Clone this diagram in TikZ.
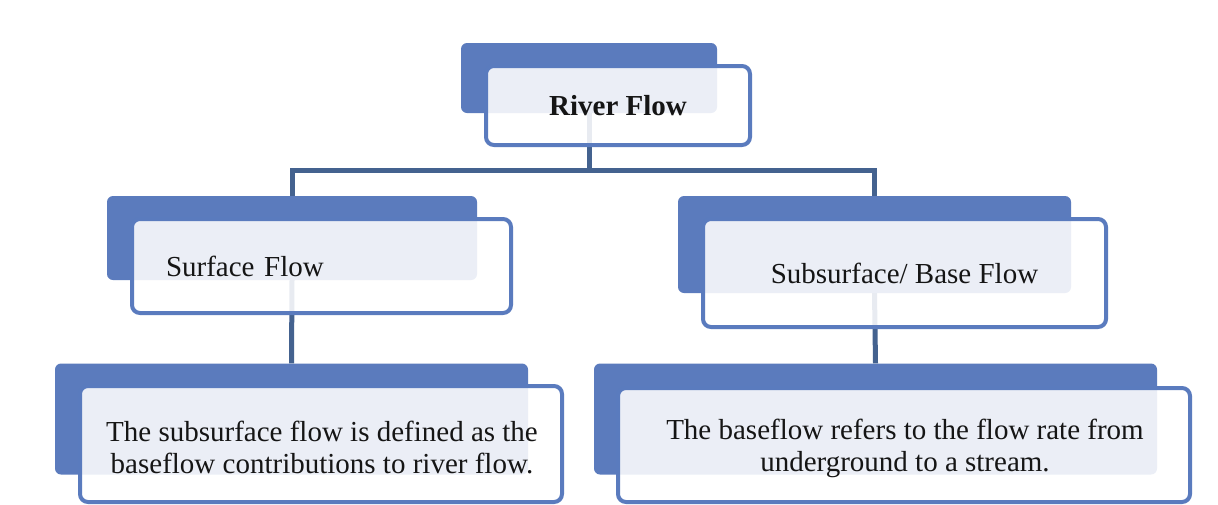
\documentclass[tikz,border=0pt]{standalone}
\usepackage{fontspec}
\setmainfont{Liberation Serif}
\definecolor{backblue}{HTML}{5B7BBD}
\definecolor{edgeblue}{HTML}{5A7BBE}
\definecolor{connblue}{HTML}{44628F}
\definecolor{txt}{HTML}{151515}
\tikzset{
  backbox/.style={fill=backblue, draw=none, rounded corners=6pt, inner sep=0pt},
  frontbox/.style={draw=edgeblue, line width=4pt, fill=white, fill opacity=0.88, text opacity=1,
    rounded corners=8pt, inner sep=0pt, text=txt, font=\fontsize{29}{32}\selectfont},
  label/.style={inner sep=0pt, text=txt, align=center, font=\fontsize{29}{32}\selectfont},
  conn/.style={draw=connblue, line width=5pt}
}
\begin{document}
\begin{tikzpicture}[x=1pt,y=-1pt]
\useasboundingbox (0,0) rectangle (1218,504);
\fill[white] (0,0) rectangle (1218,504);
% back boxes
\node[backbox, minimum width=256pt, minimum height=70pt] (rb) at (589,78) {};
\node[backbox, minimum width=370pt, minimum height=84pt] (sb) at (292,238) {};
\node[backbox, minimum width=393pt, minimum height=97pt] (bb) at (874.5,244.5) {};
\node[backbox, minimum width=473pt, minimum height=111pt] (db) at (291.5,419) {};
\node[backbox, minimum width=563pt, minimum height=111pt] (eb) at (875.5,419) {};
% connectors
\coordinate (j) at (589,170);
\draw[conn] (rb.south) -- (j);
\draw[conn] (sb.north) |- (j) -| (bb.north);
\draw[conn] (sb.south) -- (db.north);
\draw[conn] (bb.south) -- (eb.north);
% front boxes
\node[frontbox, minimum width=264pt, minimum height=79pt, font=\fontsize{29}{32}\selectfont\bfseries] (rf) at (618,105.5) {River Flow};
\node[frontbox, minimum height=94pt, text width=311pt, inner xsep=34pt, align=left] (sf) at (321.5,266) {Surface Flow};
\node[frontbox, minimum width=403pt, minimum height=108pt] (bf) at (904.5,273) {Subsurface/ Base Flow};
\node[frontbox, minimum width=482pt, minimum height=116pt] (df) at (321,444) {};
\node[frontbox, minimum width=572pt, minimum height=114pt] (ef) at (904,445) {};
\node[label] (dft) at (322,447) {The subsurface flow is defined as the\\baseflow contributions to river flow.};
\node[label] (eft) at (905,448) {The baseflow refers to the flow rate from\\underground to a stream.};
\end{tikzpicture}
\end{document}
